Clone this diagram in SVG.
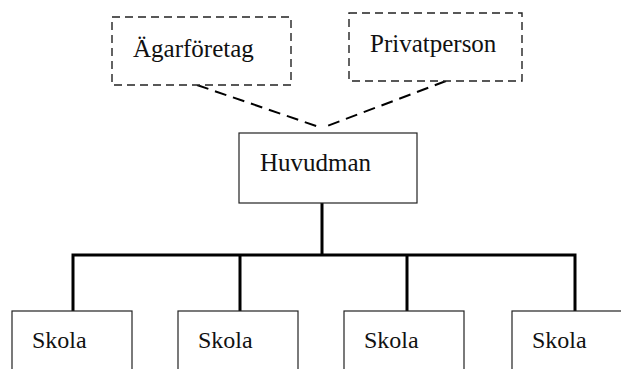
<svg xmlns="http://www.w3.org/2000/svg" width="621" height="369" viewBox="0 0 621 369">
  <style>
    .box { fill: #fff; stroke: #222; stroke-width: 1.2; }
    .dbox { fill: #fff; stroke: #222; stroke-width: 1.4; stroke-dasharray: 8 5; }
    .lbl { font-family: "Liberation Serif", "Times New Roman", serif; font-size: 25px; fill: #111; }
    .sk { font-size: 24px; }
    .tree { fill: none; stroke: #000; stroke-width: 3; stroke-linecap: square; }
    .dash { fill: none; stroke: #000; stroke-width: 2; stroke-dasharray: 12 7; }
  </style>
  <rect width="621" height="369" fill="#fff"/>

  <g id="connectors">
    <path class="dash" d="M197 85 L322 128"/>
    <path class="dash" d="M446 81 L322 128"/>
    <path class="tree" d="M322 204 V255 M73 255 H575 M73 255 V310 M240 255 V310 M407 255 V310 M575 255 V310"/>
  </g>

  <g id="agarforetag">
    <rect class="dbox" x="112" y="17" width="179" height="68"/>
    <text class="lbl" x="133" y="57">Ägarföretag</text>
  </g>
  <g id="privatperson">
    <rect class="dbox" x="349" y="13" width="173" height="68"/>
    <text class="lbl" x="370" y="52">Privatperson</text>
  </g>
  <g id="huvudman">
    <rect class="box" x="239" y="133" width="178" height="70"/>
    <text class="lbl" x="260" y="171">Huvudman</text>
  </g>
  <g id="skola1">
    <rect class="box" x="12" y="311" width="120" height="70"/>
    <text class="lbl sk" x="32" y="348">Skola</text>
  </g>
  <g id="skola2">
    <rect class="box" x="178" y="311" width="120" height="70"/>
    <text class="lbl sk" x="198" y="348">Skola</text>
  </g>
  <g id="skola3">
    <rect class="box" x="344" y="311" width="120" height="70"/>
    <text class="lbl sk" x="364" y="348">Skola</text>
  </g>
  <g id="skola4">
    <rect class="box" x="512" y="311" width="120" height="70"/>
    <text class="lbl sk" x="532" y="348">Skola</text>
  </g>
</svg>
